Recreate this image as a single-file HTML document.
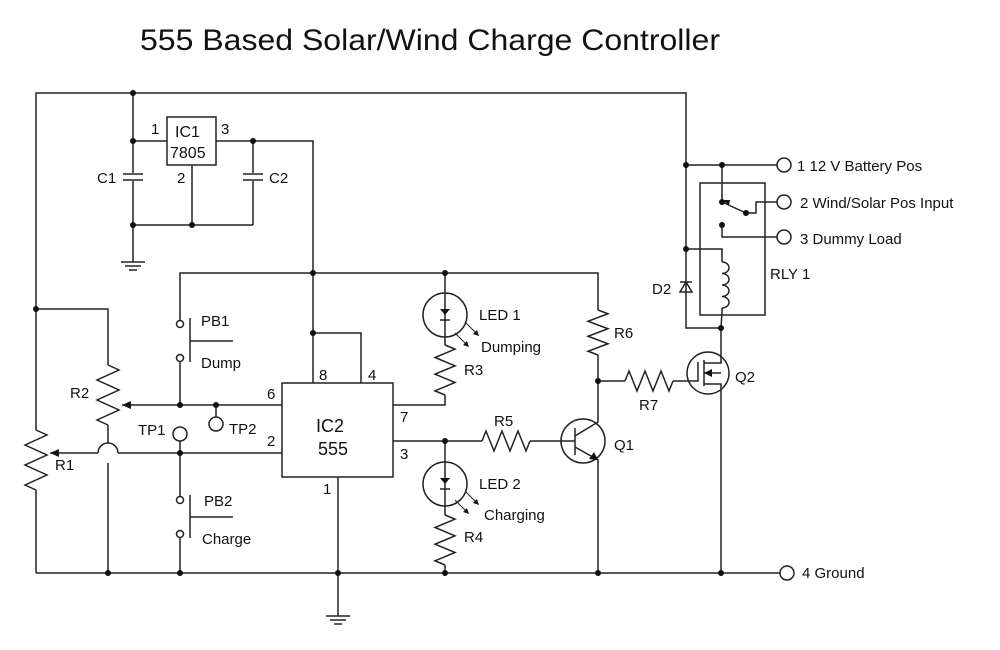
<!DOCTYPE html>
<html><head><meta charset="utf-8"><style>
body{margin:0;background:#fff}
svg{display:block}
text{font-family:"Liberation Sans",sans-serif;fill:#111}
</style></head><body>
<svg id="s" width="1000" height="650" viewBox="0 0 1000 650" xmlns="http://www.w3.org/2000/svg">
<g id="g" stroke="#222" stroke-width="1.5" fill="none">
<polyline points="36,430 36,93 686,93 686,328 721,328"/>
<line x1="686" y1="165" x2="777" y2="165"/>
<line x1="133" y1="93" x2="133" y2="262"/>
<line x1="133" y1="141" x2="167" y2="141"/>
<rect x="167" y="117" width="49" height="48"/>
<polyline points="216,141 313,141 313,383"/>
<line x1="192" y1="165" x2="192" y2="225"/>
<line x1="133" y1="225" x2="253" y2="225"/>
<line x1="253" y1="141" x2="253" y2="225"/>
<rect x="124" y="173" width="18" height="8" fill="#fff" stroke="none"/>
<line x1="123" y1="174" x2="143" y2="174"/><line x1="123" y1="180" x2="143" y2="180"/>
<rect x="244" y="173" width="18" height="8" fill="#fff" stroke="none"/>
<line x1="243" y1="174" x2="263" y2="174"/><line x1="243" y1="180" x2="263" y2="180"/>
<line x1="121" y1="262" x2="145" y2="262"/><line x1="125" y1="266" x2="141" y2="266"/><line x1="129" y1="270" x2="137" y2="270"/>
<line x1="338" y1="477" x2="338" y2="616"/>
<line x1="326" y1="616" x2="350" y2="616"/><line x1="330" y1="620" x2="346" y2="620"/><line x1="334" y1="624" x2="342" y2="624"/>
<polyline points="180,324 180,273 598,273 598,310"/>
<polyline points="313,333 361,333 361,383"/>
<rect x="282" y="383" width="111" height="94"/>
<polyline points="36,309 108,309 108,365"/>
<line x1="108" y1="425" x2="108" y2="443"/>
<path d="M98,453 A10,10 0 0 1 118,453"/>
<line x1="108" y1="463" x2="108" y2="573"/>
<line x1="36" y1="490" x2="36" y2="573"/>
<line x1="122" y1="405" x2="282" y2="405"/>
<line x1="50" y1="453" x2="98" y2="453"/>
<line x1="118" y1="453" x2="282" y2="453"/>
<line x1="36" y1="573" x2="780" y2="573"/>
<line x1="180" y1="362" x2="180" y2="405"/>
<line x1="190" y1="318" x2="190" y2="362"/><line x1="190" y1="341" x2="233" y2="341"/>
<line x1="180" y1="453" x2="180" y2="496"/>
<line x1="180" y1="538" x2="180" y2="573"/>
<line x1="190" y1="495" x2="190" y2="538"/><line x1="190" y1="517" x2="233" y2="517"/>
<line x1="216" y1="405" x2="216" y2="417"/>
<line x1="180" y1="441" x2="180" y2="453"/>
<polyline points="393,405 445,405 445,395"/>
<line x1="445" y1="273" x2="445" y2="345"/>
<circle cx="445" cy="315" r="22"/>
<line x1="393" y1="441" x2="482" y2="441"/>
<line x1="445" y1="441" x2="445" y2="515"/>
<circle cx="445" cy="484" r="22"/>
<line x1="445" y1="565" x2="445" y2="573"/>
<line x1="530" y1="441" x2="575" y2="441"/>
<circle cx="583" cy="441" r="22"/>
<line x1="575" y1="428" x2="575" y2="455"/>
<polyline points="575,436 598,422 598,355"/>
<polyline points="575,447 598,460 598,573"/>
<line x1="598" y1="381" x2="625" y2="381"/>
<line x1="673" y1="381" x2="690" y2="381"/>
<circle cx="708" cy="373" r="21"/>
<polyline points="690,381 698,381 698,362"/>
<line x1="704" y1="360" x2="704" y2="386"/>
<polyline points="704,363 721,363 721,328"/>
<polyline points="704,384 721,384 721,573"/>
<line x1="704" y1="373" x2="721" y2="373"/>
<rect x="700" y="183" width="65" height="132"/>
<line x1="722" y1="165" x2="722" y2="202"/>
<line x1="722" y1="202" x2="746" y2="213"/>
<polyline points="746,213 756,213 756,202 777,202"/>
<polyline points="722,225 722,237 777,237"/>
<polyline points="686,249 722,249 722,262"/>
<path d="M722,262 a7,5.75 0 0 1 0,11.5 a7,5.75 0 0 1 0,11.5 a7,5.75 0 0 1 0,11.5 a7,5.75 0 0 1 0,11.5"/>
<polyline points="722,308 722,312 721,328"/>
<polygon points="686,282 680,292 692,292"/><line x1="680" y1="282" x2="692" y2="282"/>
<circle cx="784" cy="165" r="7"/><circle cx="784" cy="202" r="7"/><circle cx="784" cy="237" r="7"/><circle cx="787" cy="573" r="7"/>
<circle cx="180" cy="434" r="7"/><circle cx="216" cy="424" r="7"/>
<circle cx="180" cy="324" r="3.5" fill="#fff"/><circle cx="180" cy="358" r="3.5" fill="#fff"/>
<circle cx="180" cy="500" r="3.5" fill="#fff"/><circle cx="180" cy="534" r="3.5" fill="#fff"/>
</g>
<g id="d" fill="#111" stroke="none"></g>
<text x="140" y="50" font-size="30" textLength="580" lengthAdjust="spacingAndGlyphs">555 Based Solar/Wind Charge Controller</text>
<g font-size="15">
<text x="175" y="137" font-size="16">IC1</text><text x="170" y="158" font-size="16">7805</text>
<text x="151" y="134">1</text><text x="221" y="134">3</text><text x="177" y="183">2</text>
<text x="97" y="183">C1</text><text x="269" y="183">C2</text>
<text x="319" y="380">8</text><text x="368" y="380">4</text><text x="267" y="399">6</text><text x="267" y="446">2</text>
<text x="400" y="422">7</text><text x="400" y="459">3</text><text x="323" y="494">1</text>
<text x="316" y="432" font-size="18">IC2</text><text x="318" y="455" font-size="18">555</text>
<text x="201" y="326">PB1</text><text x="201" y="368">Dump</text>
<text x="204" y="506">PB2</text><text x="202" y="544">Charge</text>
<text x="70" y="398">R2</text><text x="55" y="470">R1</text>
<text x="138" y="435">TP1</text><text x="229" y="434">TP2</text>
<text x="479" y="320">LED 1</text><text x="481" y="352">Dumping</text><text x="464" y="375">R3</text>
<text x="479" y="489">LED 2</text><text x="484" y="520">Charging</text><text x="464" y="542">R4</text>
<text x="494" y="426">R5</text><text x="614" y="450">Q1</text><text x="614" y="338">R6</text><text x="639" y="410">R7</text>
<text x="735" y="382">Q2</text><text x="652" y="294">D2</text><text x="770" y="279">RLY 1</text>
<text x="797" y="171">1 12 V Battery Pos</text>
<text x="800" y="208">2 Wind/Solar Pos Input</text>
<text x="800" y="244">3 Dummy Load</text>
<text x="802" y="578">4 Ground</text>
</g>
</svg>
<script>
var ns="http://www.w3.org/2000/svg",g=document.getElementById('g'),d=document.getElementById('d');
function el(p,t,a){var e=document.createElementNS(ns,t);for(var k in a)e.setAttribute(k,a[k]);p.appendChild(e);return e;}
function zv(x,y1,y2,a){var h=y2-y1,p=[[x,y1]],s=1;for(var i=1;i<12;i+=2){p.push([x+a*s,y1+h*i/12]);s=-s;}p.push([x,y2]);el(g,'polyline',{points:p.join(' ')});}
function zh(y,x1,x2,a){var h=x2-x1,p=[[x1,y]],s=-1;for(var i=1;i<12;i+=2){p.push([x1+h*i/12,y+a*s]);s=-s;}p.push([x2,y]);el(g,'polyline',{points:p.join(' ')});}
zv(36,430,490,11);zv(108,365,425,11);zv(445,345,395,10);zv(445,515,565,10);zv(598,310,355,10);
zh(441,482,530,10);zh(381,625,673,10);
[[133,93],[133,141],[133,225],[192,225],[253,141],[313,273],[313,333],[445,273],[180,405],[216,405],[180,453],[36,309],[108,573],[180,573],[338,573],[445,573],[598,573],[721,573],[445,441],[598,381],[686,165],[722,165],[686,249],[721,328],[722,202],[746,213],[722,225]].forEach(function(c){el(d,'circle',{cx:c[0],cy:c[1],r:3});});
el(d,'polygon',{points:'122,405 131,401 131,409'});el(d,'polygon',{points:'50,453 59,449 59,457'});
el(d,'polygon',{points:'598,460 589,459 594,452'});
el(d,'polygon',{points:'704,373 712,369 712,377'});
el(d,'polygon',{points:'445,315 440,309 450,309'});el(d,'polygon',{points:'445,484 440,478 450,478'});
el(g,'line',{x1:440,y1:320,x2:450,y2:320});el(g,'line',{x1:440,y1:489,x2:450,y2:489});
[[455,333],[455,500],[465,322],[465,491]].forEach(function(c){el(g,'line',{x1:c[0],y1:c[1],x2:c[0]+12,y2:c[1]+12,'stroke-width':1});el(d,'polygon',{points:(c[0]+14)+','+(c[1]+14)+' '+(c[0]+8)+','+(c[1]+12)+' '+(c[0]+12)+','+(c[1]+8)});});
el(d,'polygon',{points:'729,205 722,200 730,200'});
</script>
</body></html>
